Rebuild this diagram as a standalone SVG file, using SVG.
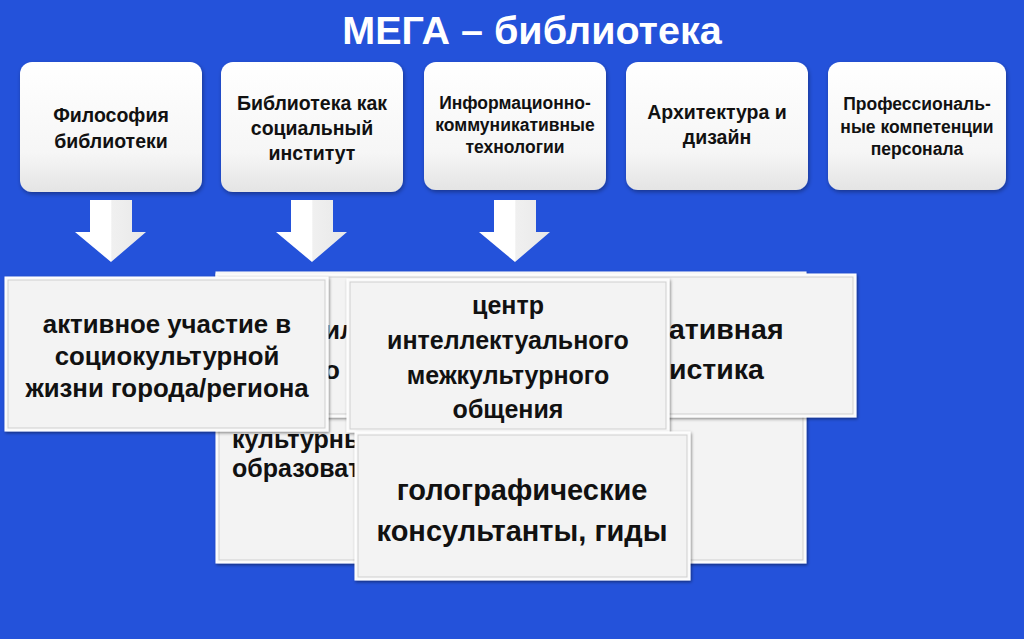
<svg xmlns="http://www.w3.org/2000/svg" width="1024" height="639" viewBox="0 0 1024 639">
<defs>
<style>
text{font-family:"Liberation Sans",Arial,sans-serif;font-weight:bold;fill:#111;text-anchor:middle}
.title{fill:#fff;font-size:39.5px}
.t1{font-size:19.5px}
.t2{font-size:17.5px}
.big{font-size:25px}
.mid{font-size:26px}
.frag{text-anchor:start}
.top{fill:url(#gTop);filter:url(#sh)}
.card{fill:#fafafa;stroke:#fff;stroke-width:1;filter:url(#sh2)}
.cardIn{fill:#f3f3f3;stroke:#cfcfcf;stroke-width:1}
.arrow{fill:url(#gArr)}
</style>
<linearGradient id="gTop" x1="0" y1="0" x2="0" y2="1">
<stop offset="0" stop-color="#ffffff"/>
<stop offset="0.7" stop-color="#f6f6f6"/>
<stop offset="1" stop-color="#e4e4e4"/>
</linearGradient>
<linearGradient id="gArr" x1="0" y1="0" x2="1" y2="0">
<stop offset="0" stop-color="#ffffff"/>
<stop offset="0.5" stop-color="#ffffff"/>
<stop offset="0.52" stop-color="#f0f0f0"/>
<stop offset="1" stop-color="#e8e8e8"/>
</linearGradient>
<filter id="sh" x="-10%" y="-10%" width="130%" height="130%">
<feDropShadow dx="1" dy="2" stdDeviation="2" flood-color="#000" flood-opacity="0.35"/>
</filter>
<filter id="sh2" x="-10%" y="-10%" width="130%" height="130%">
<feDropShadow dx="1" dy="1.5" stdDeviation="1.5" flood-color="#000" flood-opacity="0.45"/>
</filter>
</defs>
<rect width="1024" height="639" fill="#2452DA"/>
<text class="title" x="532" y="44">МЕГА – библиотека</text>

<g id="node-philosophy">
<rect class="top" x="20" y="62" width="182" height="130" rx="12"/>
<text class="t1" x="111" y="122">Философия</text>
<text class="t1" x="111" y="148">библиотеки</text>
</g>
<g id="node-institute">
<rect class="top" x="221" y="62" width="182" height="130" rx="12"/>
<text class="t1" x="312" y="110">Библиотека как</text>
<text class="t1" x="312" y="135">социальный</text>
<text class="t1" x="312" y="160">институт</text>
</g>
<g id="node-ict">
<rect class="top" x="424" y="62" width="182" height="128" rx="12"/>
<text class="t2" x="515" y="109">Информационно-</text>
<text class="t2" x="515" y="131">коммуникативные</text>
<text class="t2" x="515" y="153">технологии</text>
</g>
<g id="node-architecture">
<rect class="top" x="626" y="62" width="182" height="128" rx="12"/>
<text class="t1" x="717" y="119">Архитектура и</text>
<text class="t1" x="717" y="144">дизайн</text>
</g>
<g id="node-competence">
<rect class="top" x="828" y="62" width="178" height="128" rx="12"/>
<text class="t2" x="917" y="110">Профессиональ-</text>
<text class="t2" x="917" y="133">ные компетенции</text>
<text class="t2" x="917" y="155">персонала</text>
</g>

<g id="connectors">
<polygon class="arrow" points="90,200 132,200 132,232 146,232 111,262 75,232 90,232"/>
<polygon class="arrow" points="291,200 333,200 333,232 347,232 312,262 276,232 291,232"/>
<polygon class="arrow" points="494,200 536,200 536,232 550,232 515,262 479,232 494,232"/>
</g>

<g id="node-back-lower">
<rect class="card" x="216" y="272" width="590" height="291"/>
<rect class="cardIn" x="219" y="275" width="584" height="285"/>
<text class="big frag" x="232" y="448">культурны</text>
<text class="big frag" x="232" y="477">образоват</text>
</g>
<g id="node-back-upper">
<rect class="card" x="216" y="274" width="640" height="143"/>
<rect class="cardIn" x="219" y="277" width="634" height="137"/>
<text class="mid frag" x="324" y="339">ил</text>
<text class="mid frag" x="324" y="379">о</text>
<text class="mid frag" x="669" y="339" style="font-size:28.5px">ативная</text>
<text class="mid frag" x="669" y="379" style="font-size:28.5px">истика</text>
</g>
<g id="node-participation">
<rect class="card" x="5" y="277" width="323" height="154"/>
<rect class="cardIn" x="8" y="280" width="317" height="148"/>
<text class="big" x="167" y="333" style="font-size:25.8px">активное участие в</text>
<text class="big" x="167" y="365" style="font-size:25.8px">социокультурной</text>
<text class="big" x="167" y="397" style="font-size:25.8px">жизни города/региона</text>
</g>
<g id="node-center">
<rect class="card" x="347" y="279" width="322" height="153"/>
<rect class="cardIn" x="350" y="282" width="316" height="147"/>
<text class="big" x="508" y="314">центр</text>
<text class="big" x="508" y="349">интеллектуального</text>
<text class="big" x="508" y="384">межкультурного</text>
<text class="big" x="508" y="418">общения</text>
</g>
<g id="node-holo">
<rect class="card" x="355" y="432" width="335" height="148"/>
<rect class="cardIn" x="358" y="435" width="329" height="142"/>
<text class="big" x="522" y="500" style="font-size:29px">голографические</text>
<text class="big" x="522" y="541" style="font-size:29px">консультанты, гиды</text>
</g>
</svg>
